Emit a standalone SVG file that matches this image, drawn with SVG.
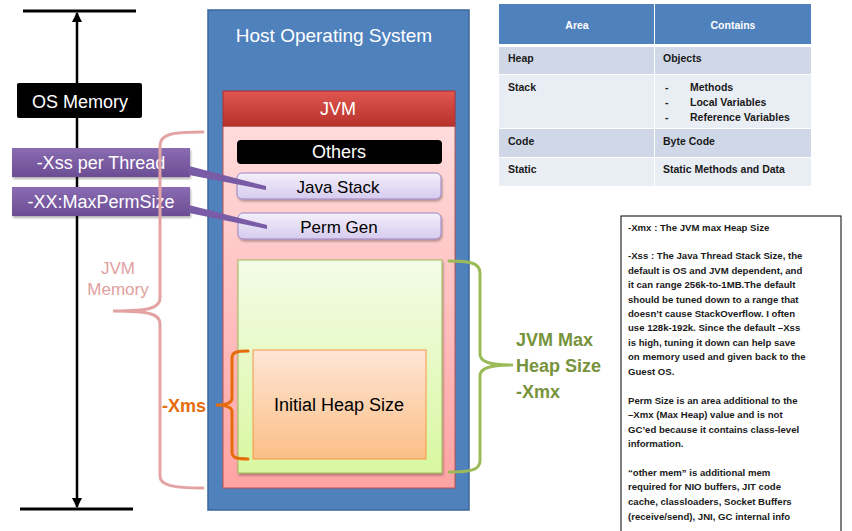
<svg xmlns="http://www.w3.org/2000/svg" width="852" height="531" viewBox="0 0 852 531">
<defs>
<linearGradient id="gRed" x1="0" y1="0" x2="0" y2="1"><stop offset="0" stop-color="#e05650"/><stop offset="1" stop-color="#b8322c"/></linearGradient>
<linearGradient id="gPink" x1="0" y1="0" x2="0" y2="1"><stop offset="0" stop-color="#ffdcdc"/><stop offset="1" stop-color="#ffa3a3"/></linearGradient>
<linearGradient id="gGreen" x1="0" y1="0" x2="0" y2="1"><stop offset="0" stop-color="#f4fbe8"/><stop offset="1" stop-color="#d8f8a0"/></linearGradient>
<linearGradient id="gOrange" x1="0" y1="0" x2="0" y2="1"><stop offset="0" stop-color="#fee6d6"/><stop offset="1" stop-color="#fbbf86"/></linearGradient>
<linearGradient id="gLav" x1="0" y1="0" x2="0" y2="1"><stop offset="0" stop-color="#f4f0fb"/><stop offset="1" stop-color="#d6cbee"/></linearGradient>
<linearGradient id="gPurp" x1="0" y1="0" x2="0" y2="1"><stop offset="0" stop-color="#8a6cb2"/><stop offset="1" stop-color="#6b4d94"/></linearGradient>
<marker id="ah" viewBox="0 0 10 10" refX="9" refY="5" markerWidth="4" markerHeight="4" orient="auto-start-reverse"><path d="M0,0 L10,5 L0,10 z" fill="#000"/></marker>
<filter id="sh" x="-10%" y="-10%" width="130%" height="140%"><feDropShadow dx="1" dy="2" stdDeviation="1.2" flood-color="#000" flood-opacity="0.3"/></filter>
</defs>
<style>
.sans{font-family:"Liberation Sans","DejaVu Sans",sans-serif}
.w{fill:#fff}
.big{font-size:18px}
.tbl{font-size:10.5px;fill:#1a1a1a;font-weight:bold}
.note{font-size:9.6px;fill:#1a1a1a;font-weight:bold}
.brace{fill:none;stroke-width:3;stroke-linecap:round}
</style>

<g id="os-memory-arrow">
<line x1="23" y1="11" x2="136" y2="11" stroke="#000" stroke-width="3"/>
<line x1="20" y1="509" x2="133" y2="509" stroke="#000" stroke-width="3"/>
<line x1="77" y1="13" x2="77" y2="507" stroke="#000" stroke-width="2.5" marker-start="url(#ah)" marker-end="url(#ah)"/>
</g>
<g id="os-memory-label">
<rect x="17" y="83" width="125" height="35" rx="2" fill="#000"/>
<text class="sans big w" x="80" y="108" text-anchor="middle" font-size="19">OS Memory</text>
</g>

<g id="host-os">
<rect x="208" y="10" width="261" height="500" fill="#4f81bd" stroke="#3b6699" stroke-width="1.5"/>
<text class="sans w" x="334" y="42" text-anchor="middle" font-size="19">Host Operating System</text>
</g>
<g id="jvm">
<rect x="223" y="126" width="232" height="362" fill="url(#gPink)" stroke="#c0504d" stroke-width="1"/>
<rect x="223" y="91" width="232" height="35" fill="url(#gRed)" stroke="#a8322d" stroke-width="1"/>
<text class="sans big w" x="338" y="115" text-anchor="middle">JVM</text>
</g>
<g id="others">
<rect x="237" y="140" width="205" height="24" rx="4" fill="#000"/>
<text class="sans big w" x="339" y="158" text-anchor="middle">Others</text>
</g>
<g id="java-stack">
<rect x="237" y="173" width="204" height="26" rx="5" fill="url(#gLav)" stroke="#9a85c4" stroke-width="1" filter="url(#sh)"/>
<text class="sans" x="338" y="193" text-anchor="middle" font-size="17" fill="#000">Java Stack</text>
</g>
<g id="perm-gen">
<rect x="238" y="213" width="203" height="26" rx="5" fill="url(#gLav)" stroke="#9a85c4" stroke-width="1" filter="url(#sh)"/>
<text class="sans" x="339" y="233" text-anchor="middle" font-size="17" fill="#000">Perm Gen</text>
</g>
<g id="max-heap">
<rect x="238" y="260" width="204" height="213" fill="url(#gGreen)" stroke="#9bbb59" stroke-width="1" filter="url(#sh)"/>
</g>
<g id="initial-heap">
<rect x="253" y="350" width="173" height="109" fill="url(#gOrange)" stroke="#f79646" stroke-width="1"/>
<text class="sans big" x="339" y="411" text-anchor="middle" fill="#000">Initial Heap Size</text>
</g>

<g id="xss-label">
<rect x="12" y="148" width="178" height="29" fill="url(#gPurp)" filter="url(#sh)"/>
<text class="sans big w" x="101" y="169" text-anchor="middle">-Xss per Thread</text>
</g>
<g id="maxperm-label">
<rect x="12" y="187" width="178" height="29" fill="url(#gPurp)" filter="url(#sh)"/>
<text class="sans big w" x="101" y="208" text-anchor="middle">-XX:MaxPermSize</text>
</g>

<g id="connectors">
<polygon points="189,166 266,186 266,190 189,175" fill="#7a5ca6"/>
<polygon points="189,205 267,225 267,229 189,213" fill="#7a5ca6"/>
<path class="brace" stroke="#e3a3a3" d="M203,132 C172,132 160,134 160,146 L160,298 C160,308 150,311 113,311 C150,311 160,314 160,324 L160,476 C160,485 172,488 203,488"/>
<path class="brace" stroke="#e46c0a" d="M248,351 C237,351 232,352 232,358 L232,398 C232,403 226,405 216,405 C226,405 232,407 232,412 L232,452 C232,458 237,459 248,459"/>
<path class="brace" stroke="#9bbb59" d="M449,261 C470,261 480,263 480,273 L480,354 C480,362 490,365 513,365 C490,365 480,368 480,376 L480,461 C480,470 470,472 449,472"/>
</g>

<g id="jvm-memory-label">
<text class="sans" x="118" y="274" text-anchor="middle" font-size="17" fill="#e0a0a0">JVM</text>
<text class="sans" x="118" y="295" text-anchor="middle" font-size="17" fill="#e0a0a0">Memory</text>
</g>
<g id="xms-label">
<text class="sans" x="162" y="412" font-size="18" font-weight="bold" fill="#e46c0a">-Xms</text>
</g>
<g id="xmx-label">
<text class="sans" x="516" y="346" font-size="18" font-weight="bold" fill="#77933c">JVM Max</text>
<text class="sans" x="516" y="372" font-size="18" font-weight="bold" fill="#77933c">Heap Size</text>
<text class="sans" x="516" y="398" font-size="18" font-weight="bold" fill="#77933c">-Xmx</text>
</g>

<g id="table">
<rect x="499" y="4" width="155" height="40" fill="#4f81bd"/>
<rect x="655" y="4" width="156" height="40" fill="#4f81bd"/>
<rect x="499" y="47" width="155" height="27" fill="#d0d8e8"/>
<rect x="655" y="47" width="156" height="27" fill="#d0d8e8"/>
<rect x="499" y="75" width="155" height="53" fill="#e9edf4"/>
<rect x="655" y="75" width="156" height="53" fill="#e9edf4"/>
<rect x="499" y="129" width="155" height="28" fill="#d0d8e8"/>
<rect x="655" y="129" width="156" height="28" fill="#d0d8e8"/>
<rect x="499" y="158" width="155" height="28" fill="#e9edf4"/>
<rect x="655" y="158" width="156" height="28" fill="#e9edf4"/>
<text class="sans w" x="577" y="29" text-anchor="middle" font-size="10.5" font-weight="bold">Area</text>
<text class="sans w" x="733" y="29" text-anchor="middle" font-size="10.5" font-weight="bold">Contains</text>
<text class="sans tbl" x="508" y="62">Heap</text>
<text class="sans tbl" x="663" y="62">Objects</text>
<text class="sans tbl" x="508" y="91">Stack</text>
<text class="sans tbl" x="665" y="91">-</text>
<text class="sans tbl" x="690" y="91">Methods</text>
<text class="sans tbl" x="665" y="106">-</text>
<text class="sans tbl" x="690" y="106">Local Variables</text>
<text class="sans tbl" x="665" y="121">-</text>
<text class="sans tbl" x="690" y="121">Reference Variables</text>
<text class="sans tbl" x="508" y="145">Code</text>
<text class="sans tbl" x="663" y="145">Byte Code</text>
<text class="sans tbl" x="508" y="173">Static</text>
<text class="sans tbl" x="663" y="173">Static Methods and Data</text>
</g>

<g id="notes">
<rect x="621" y="216" width="220" height="320" fill="#fff" stroke="#000" stroke-width="1"/>
<text class="sans note" x="628" y="231">-Xmx : The JVM max Heap Size</text>
<text class="sans note" x="628" y="259">-Xss : The Java Thread Stack Size, the</text>
<text class="sans note" x="628" y="274">default is OS and JVM dependent, and</text>
<text class="sans note" x="628" y="288">it can range 256k-to-1MB.The default</text>
<text class="sans note" x="628" y="303">should be tuned down to a range that</text>
<text class="sans note" x="628" y="317">doesn’t cause StackOverflow.  I often</text>
<text class="sans note" x="628" y="331">use 128k-192k.  Since the default –Xss</text>
<text class="sans note" x="628" y="346">is high, tuning it down can help save</text>
<text class="sans note" x="628" y="360">on memory used and given back to the</text>
<text class="sans note" x="628" y="375">Guest OS.</text>
<text class="sans note" x="628" y="404">Perm Size is an area additional to the</text>
<text class="sans note" x="628" y="418">–Xmx (Max Heap) value and is not</text>
<text class="sans note" x="628" y="433">GC’ed because it contains class-level</text>
<text class="sans note" x="628" y="447">information.</text>
<text class="sans note" x="628" y="476">“other mem” is additional mem</text>
<text class="sans note" x="628" y="490">required for NIO buffers, JIT code</text>
<text class="sans note" x="628" y="505">cache, classloaders, Socket Buffers</text>
<text class="sans note" x="628" y="520">(receive/send), JNI, GC internal info</text>
</g>
</svg>
